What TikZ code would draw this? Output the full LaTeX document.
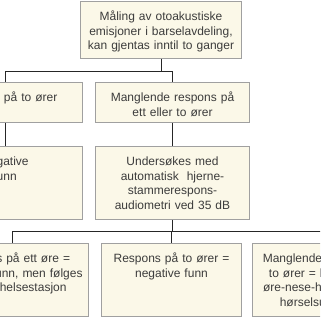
\documentclass[tikz,border=0pt]{standalone}
\usepackage{fontspec}
\setmainfont{Liberation Sans}
\definecolor{BoxFill}{RGB}{251,248,232}
\definecolor{BoxLine}{RGB}{160,160,160}
\definecolor{TextGray}{RGB}{60,60,60}
\begin{document}
\begin{tikzpicture}[x=1pt, y=-1pt,
    every node/.style={font=\fontsize{12}{14.4}\selectfont, text=TextGray},
    box/.style 2 args={draw=BoxLine, fill=BoxFill, line width=0.9pt, align=center, anchor=north,
      inner xsep=3pt, inner ysep=0pt, text width=#1, text height=19.5pt, text depth=#2},
    link/.style={draw=black!85, line width=0.9pt}]
  \useasboundingbox (0,0) rectangle (320,320);
  \clip (0,0) rectangle (320,320);
  % Boxes
  \node[box={155pt}{37.5pt}] (oae) at (161,1) {M\aa ling av otoakustiske\\emisjoner i barselavdeling,\\kan gjentas inntil to ganger};

  \node[box={149pt}{20.5pt}] (bothears) at (5,82) {Respons p\aa\ to \o rer};
  \node[box={148pt}{20.5pt}] (noresp) at (172.5,82) {Manglende respons p\aa\\ett eller to \o rer};

  \node[box={149pt}{53.5pt}] (negative) at (5,146) {Negative\\funn};
  \node[box={148pt}{53.5pt}] (aabr) at (172.5,146) {Unders\o kes med\\automatisk\ \ hjerne-\\stammerespons-\\audiometri ved 35 dB};

  \node[box={146pt}{53.5pt}] (oneear) at (12.5,243) {Respons p\aa\ ett \o re =\\negative funn, men f\o lges\\opp p\aa\ helsestasjon};
  \node[box={134pt}{53.5pt}] (twoears) at (171.5,243) {Respons p\aa\ to \o rer =\\negative funn};
  \node[box={138pt}{53.5pt}] (refer) at (324.5,243) {Manglende respons p\aa\\to \o rer = henvises til\\\o re-nese-hals-avdeling\\h\o rselsutredning};

  % Lines
  \draw[link] (oae.south) -- ++(0,13) -| (bothears.north);
  \draw[link] (oae.south) ++(0,13) -| (noresp.north);
  \draw[link] (bothears.south) -- (negative.north);
  \draw[link] (noresp.south) -- (aabr.north);
  \draw[link] (aabr.south) -- ++(0,12) -| (oneear.north);
  \draw[link] (aabr.south) ++(0,12) -| (twoears.north);
  \draw[link] (aabr.south) ++(0,12) -| (refer.north);
\end{tikzpicture}
\end{document}
